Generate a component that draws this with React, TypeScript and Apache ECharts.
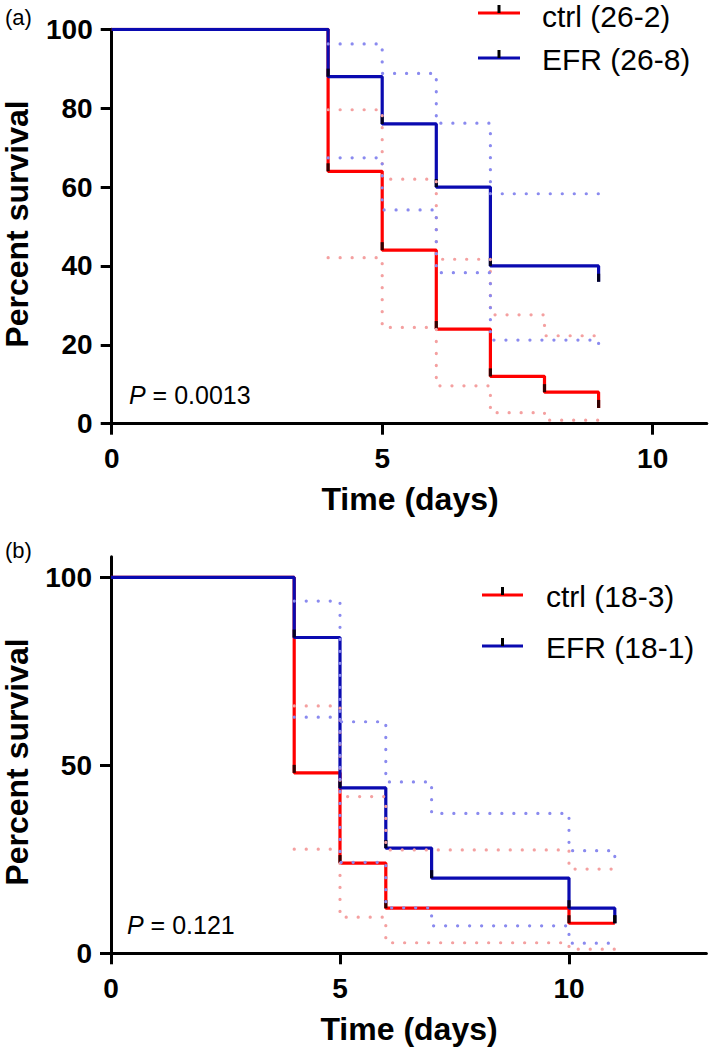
import React, { useEffect, useRef } from "react";
import * as echarts from "echarts";

// ---- tick values ----
const xTickValues = [0, 5, 10];
const aYTicks = [0, 20, 40, 60, 80, 100];
const bYTicks = [0, 50, 100];

// ---- panel (a) ----
const aCtrlTimes = [0, 4, 5, 6, 7, 8, 9];
const aCtrlSurv = [100, 64, 44, 24, 12, 8, 4];
const aEfrTimes = [0, 4, 5, 6, 7, 9];
const aEfrSurv = [100, 88, 76, 60, 40, 36];
const aCtrlBandTimes = [4, 5, 6, 7, 8, 9];
const aCtrlUpper = [79.6, 62, 41.7, 27.6, 22.3, 22.3];
const aCtrlLower = [42.1, 24.4, 9.6, 2.8, 0.9, 0.9];
const aEfrBandTimes = [4, 5, 6, 7, 9];
const aEfrUpper = [96.3, 88.8, 76.2, 58.3, 56.3];
const aEfrLower = [67.4, 54.2, 38.3, 21.2, 18.3];

// ---- panel (b) ----
const bCtrlTimes = [0, 4, 5, 6, 10, 11];
const bCtrlSurv = [100, 48, 24, 12, 8, 8];
const bEfrTimes = [0, 4, 5, 6, 7, 10, 11];
const bEfrSurv = [100, 84, 44, 28, 20, 12, 8];
const bCtrlBandTimes = [4, 5, 6, 10, 11];
const bCtrlUpper = [65.8, 41.7, 27.5, 22.4, 22.4];
const bCtrlLower = [27.7, 9.6, 2.8, 1.1, 1.1];
const bEfrBandTimes = [4, 5, 6, 7, 10, 11];
const bEfrUpper = [93.7, 61.6, 45.6, 37.2, 27.3, 23.9];
const bEfrLower = [62.8, 24.2, 12.1, 7.3, 2.7, 2.7];

const RED = "#ff0000";
const BLUE = "#0a0ab0";
const LRED = "#f4a0a0";
const LBLUE = "#8a8aef";
const FONT = '"Liberation Sans", Arial, Helvetica, sans-serif';

const pairs = (t: number[], v: number[]) => t.map((x, i) => [x, v[i]]);

function solid(name: string, t: number[], v: number[], color: string, g: number) {
  return {
    name,
    type: "line",
    xAxisIndex: g,
    yAxisIndex: g,
    step: "end",
    data: pairs(t, v),
    symbol: "none",
    lineStyle: { color, width: 3.2 },
    z: 2,
  };
}
function censor(t: number[], v: number[], g: number) {
  return {
    type: "scatter",
    xAxisIndex: g,
    yAxisIndex: g,
    data: pairs(t.slice(1), v.slice(1)),
    symbol: "rect",
    symbolSize: [3.2, 8],
    symbolOffset: [0, -4],
    itemStyle: { color: "#000" },
    z: 3,
  };
}
function band(t: number[], v: number[], color: string, g: number) {
  return {
    type: "line",
    xAxisIndex: g,
    yAxisIndex: g,
    step: "end",
    data: pairs(t, v),
    symbol: "none",
    lineStyle: { color, width: 3.2, type: [0.1, 11.9], cap: "round" },
    z: 4,
  };
}

const axisCommon = {
  axisLine: { show: true, lineStyle: { color: "#000", width: 3 } },
  splitLine: { show: false },
};

function xAxis(max: number, g: number) {
  return {
    type: "value",
    gridIndex: g,
    min: 0,
    max,
    interval: 5,
    ...axisCommon,
    axisTick: { show: true, length: 11, lineStyle: { color: "#000", width: 3 }, customValues: xTickValues },
    axisLabel: {
      color: "#000",
      fontSize: 28,
      fontWeight: "bold",
      fontFamily: FONT,
      margin: 21,
      customValues: xTickValues,
    },
  };
}
function yAxis(max: number, interval: number, ticks: number[], g: number) {
  return {
    type: "value",
    gridIndex: g,
    min: 0,
    max,
    interval,
    ...axisCommon,
    axisTick: { show: true, length: 11, lineStyle: { color: "#000", width: 3 }, customValues: ticks },
    axisLabel: {
      color: "#000",
      fontSize: 28,
      fontWeight: "bold",
      fontFamily: FONT,
      margin: 19,
      customValues: ticks,
    },
  };
}

function legendItem(x1: number, x2: number, y: number, color: string, label: string, tx: number, ty: number) {
  const cx = (x1 + x2) / 2;
  return [
    { type: "line", shape: { x1, y1: y, x2, y2: y }, style: { stroke: color, lineWidth: 3.2 } },
    { type: "line", shape: { x1: cx, y1: y - 8, x2: cx, y2: y }, style: { stroke: "#000", lineWidth: 3 } },
    {
      type: "text",
      x: tx,
      y: ty,
      style: {
        text: label,
        fontSize: 30,
        lineHeight: 30,
        fontFamily: FONT,
        fill: "#000",
        verticalAlign: "middle",
        align: "left",
      },
    },
  ];
}

function pText(x: number, y: number, value: string) {
  return {
    type: "text",
    x,
    y,
    style: {
      text: "{i|P} = " + value,
      fontSize: 25,
      fontFamily: FONT,
      fill: "#000",
      verticalAlign: "middle",
      align: "left",
      rich: { i: { fontStyle: "italic", fontSize: 25, fontFamily: FONT, fill: "#000" } },
    },
  };
}

function titleText(x: number, y: number, text: string, rotate: boolean) {
  return {
    type: "text",
    x,
    y,
    rotation: rotate ? Math.PI / 2 : 0,
    style: {
      text,
      fontSize: 32,
      lineHeight: 32,
      fontWeight: "bold",
      fontFamily: FONT,
      fill: "#000",
      align: "center",
      verticalAlign: "middle",
    },
  };
}

function panelLabel(x: number, y: number, text: string) {
  return {
    type: "text",
    x,
    y,
    style: { text, fontSize: 22, lineHeight: 22, fontFamily: FONT, fill: "#000", verticalAlign: "middle", align: "left" },
  };
}

export default function App() {
  const ref = useRef<HTMLDivElement>(null);
  useEffect(() => {
    if (!ref.current) return;
    const chart = echarts.init(ref.current, undefined, { renderer: "svg" });
    const option: any = {
      animation: false,
      backgroundColor: "#fff",
      grid: [
        { left: 111.7, top: 29.3, width: 595.1, height: 394.4, containLabel: false, outerBoundsMode: "none" },
        { left: 111, top: 556.7, width: 595.4, height: 396.6, containLabel: false, outerBoundsMode: "none" },
      ],
      xAxis: [xAxis(11, 0), xAxis(13, 1)],
      yAxis: [yAxis(100, 20, aYTicks, 0), yAxis(105.5, 50, bYTicks, 1)],
      series: [
        solid("ctrl (26-2)", aCtrlTimes, aCtrlSurv, RED, 0),
        solid("EFR (26-8)", aEfrTimes, aEfrSurv, BLUE, 0),
        censor(aCtrlTimes, aCtrlSurv, 0),
        censor(aEfrTimes, aEfrSurv, 0),
        band(aCtrlBandTimes, aCtrlUpper, LRED, 0),
        band(aCtrlBandTimes, aCtrlLower, LRED, 0),
        band(aEfrBandTimes, aEfrUpper, LBLUE, 0),
        band(aEfrBandTimes, aEfrLower, LBLUE, 0),
        solid("ctrl (18-3)", bCtrlTimes, bCtrlSurv, RED, 1),
        solid("EFR (18-1)", bEfrTimes, bEfrSurv, BLUE, 1),
        censor(bCtrlTimes, bCtrlSurv, 1),
        censor(bEfrTimes, bEfrSurv, 1),
        band(bCtrlBandTimes, bCtrlUpper, LRED, 1),
        band(bCtrlBandTimes, bCtrlLower, LRED, 1),
        band(bEfrBandTimes, bEfrUpper, LBLUE, 1),
        band(bEfrBandTimes, bEfrLower, LBLUE, 1),
      ],
      graphic: [
        panelLabel(5, 17, "(a)"),
        panelLabel(5, 550, "(b)"),
        titleText(16.5, 224, "Percent survival", true),
        titleText(16.5, 762, "Percent survival", true),
        titleText(410, 499, "Time (days)", false),
        titleText(409, 1029, "Time (days)", false),
        pText(129, 395, "0.0013"),
        pText(127, 925, "0.121"),
        ...legendItem(478, 520, 13, RED, "ctrl (26-2)", 542, 16),
        ...legendItem(478, 520, 58, BLUE, "EFR (26-8)", 542, 59),
        ...legendItem(482, 523, 595, RED, "ctrl (18-3)", 546, 596),
        ...legendItem(482, 523, 646, BLUE, "EFR (18-1)", 546, 647),
      ],
    };
    chart.setOption(option);
    return () => chart.dispose();
  }, []);
  return (
    <div
      ref={ref}
      style={{ position: "absolute", left: 0, top: 0, width: 709, height: 1047, background: "#fff" }}
    />
  );
}
